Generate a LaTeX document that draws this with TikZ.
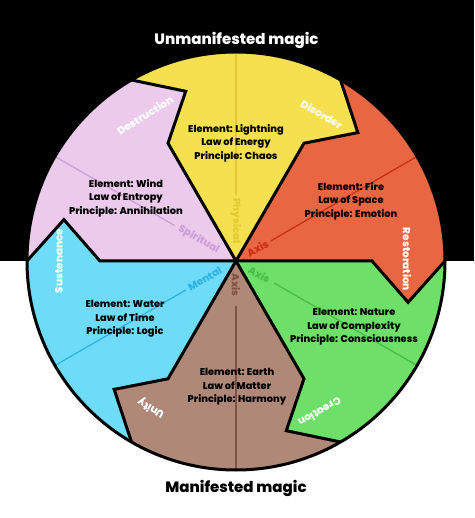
\documentclass[tikz,border=0pt]{standalone}
\usepackage{fontspec}
\setmainfont{Poppins}
\newfontfamily\heavy{Poppins ExtraBold}
\definecolor{cYellow}{HTML}{F5E150}
\definecolor{cOrange}{HTML}{E86642}
\definecolor{cGreen}{HTML}{6EE06A}
\definecolor{cBrown}{HTML}{B08878}
\definecolor{cBlue}{HTML}{6EDCF8}
\definecolor{cPink}{HTML}{EBCAEC}
\definecolor{aYellow}{HTML}{E6C832}
\definecolor{aOrange}{HTML}{CC2E16}
\definecolor{aGreen}{HTML}{46BE46}
\definecolor{aBrown}{HTML}{7E5444}
\definecolor{aBlue}{HTML}{30B4E4}
\definecolor{aPink}{HTML}{CCA0D6}
\begin{document}
\begin{tikzpicture}[x=1pt,y=1pt,
  body/.style={font=\fontsize{9.8}{13.5}\selectfont\heavy, align=center, text=black, inner sep=0pt},
  rim/.style={font=\fontsize{10.4}{11}\selectfont\heavy, text=white, inner sep=0pt},
  axlabel/.style={font=\fontsize{10.2}{11}\selectfont\heavy, inner sep=0pt},
  title/.style={font=\fontsize{15}{17}\selectfont\heavy, inner sep=0pt},
  border/.style={line width=3pt, line join=miter, draw=black},
  axisline/.style={line width=1.3pt}]
\def\R{209}
\useasboundingbox (-236,-257) rectangle (238,261);
\fill[black] (-236,0) rectangle (238,261);
\fill[white] (-236,-257) rectangle (238,0);
% sectors
\foreach \a/\c in {60/cYellow,0/cOrange,-60/cGreen,-120/cBrown,180/cBlue,120/cPink}{
  \pgfmathsetmacro{\b}{\a+60}
  \pgfmathsetmacro{\an}{\a-13.5}
  \pgfmathsetmacro{\bn}{\b-13.5}
  \fill[\c] (0,0) -- (\a:136) -- (\an:177) -- (\a:\R) arc[start angle=\a, end angle=\b, radius=\R] -- (\bn:177) -- (\b:136) -- cycle;
}
% axis lines
\draw[axisline, aYellow] (90:\R) -- (90:66);
\draw[axisline, aBrown] (270:45) -- (270:\R);
\draw[axisline, aPink] (150:\R) -- (150:71);
\draw[axisline, aBlue] (210:\R) -- (210:58);
\draw[axisline, aOrange] (30:\R) -- (30:40);
\draw[axisline, aGreen] (-30:\R) -- (-30:44);
% borders
\foreach \a in {0,60,120,180,240,300}{
  \pgfmathsetmacro{\an}{\a-13.5}
  \draw[border] (0,0) -- (\a:136) -- (\an:177) -- (\a:\R);
}
\draw[border] (0,0) circle[radius=\R];
% axis labels
\node[axlabel, text=aYellow, rotate=-90] (lphys) at (90:40) {Physical};
\node[axlabel, text=aBrown, rotate=-90] (laxb) at (270:24) {Axis};
\node[axlabel, text=aPink, rotate=-30] (lspir) at (150:43) {Spiritual};
\node[axlabel, text=aBlue, rotate=30] (lment) at (210:36) {Mental};
\node[axlabel, text=aOrange, rotate=30] (laxo) at (30:25) {Axis};
\node[axlabel, text=aGreen, rotate=-30] (laxg) at (-30:27) {Axis};
% rim labels
\node[rim, rotate=32] (ldes) at (122:172) {Destruction};
\node[rim, rotate=-30] (ldis) at (59.7:170) {Disorder};
\node[rim, rotate=-90] (lres) at (0.5:171) {Restoration};
\node[rim, rotate=-150] (lcre) at (-61:173) {Creation};
\node[rim, rotate=150] (luni) at (-120:170) {Unity};
\node[rim, rotate=90] (lsus) at (180:177) {Sustenance};
% body texts
\node[body] (tY) at (0,118) {Element: Lightning\\Law of Energy\\Principle: Chaos};
\node[body] (tP) at (-110,63) {Element: Wind\\Law of Entropy\\Principle: Annihilation};
\node[body] (tO) at (115,60) {Element: Fire\\Law of Space\\Principle: Emotion};
\node[body] (tB) at (-111,-58) {Element: Water\\Law of Time\\Principle: Logic};
\node[body] (tG) at (118,-66) {Element: Nature\\Law of Complexity\\Principle: Consciousness};
\node[body] (tE) at (1,-126) {Element: Earth\\Law of Matter\\Principle: Harmony};
% titles
\node[title, text=white] (top) at (0.5,221) {Unmanifested magic};
\node[title, text=black] (bot) at (0,-227) {Manifested magic};
\end{tikzpicture}
\end{document}
